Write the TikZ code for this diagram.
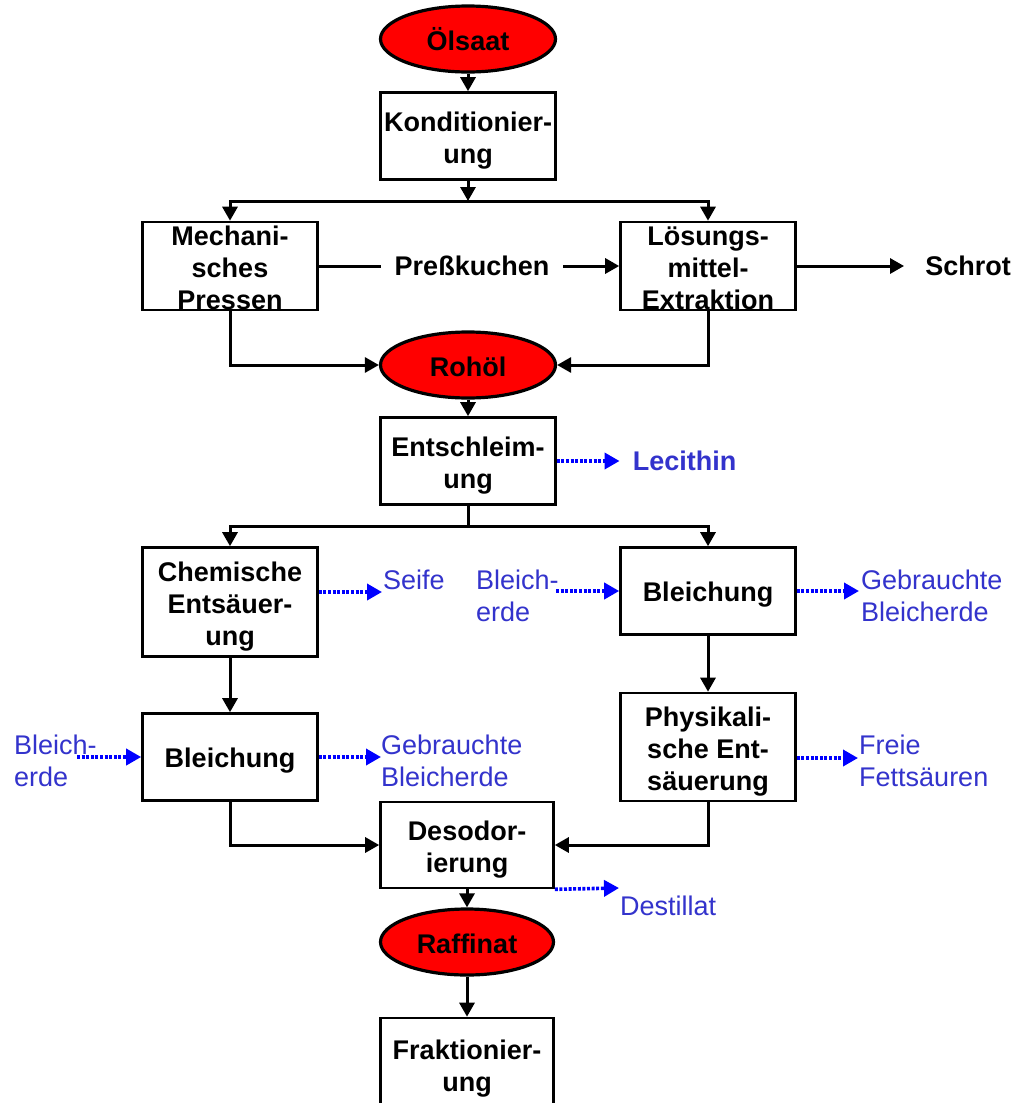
\documentclass[tikz,border=0pt]{standalone}
\usepackage{fontspec}
\setmainfont{Liberation Sans}
\usetikzlibrary{shapes.geometric,arrows.meta}
\definecolor{lblblue}{RGB}{51,51,204}
\definecolor{arrblue}{RGB}{0,0,255}
\newcommand\tstrut{\rule{0pt}{28pt}}
\newcommand\sstrut{\rule{0pt}{23pt}}
\begin{document}
\begin{tikzpicture}[x=1pt,y=-1pt,
 box/.style={draw,line width=2.6pt,minimum width=175pt,inner sep=0pt,font=\bfseries\fontsize{27}{32}\selectfont,align=center},
 oval/.style={ellipse,draw,line width=3.2pt,fill=red,minimum width=175pt,minimum height=66pt,inner sep=0pt,font=\bfseries\fontsize{27}{32}\selectfont,execute at begin node={\rule{0pt}{24pt}}},
 arr/.style={line width=3pt,-{Triangle[length=14pt,width=15pt]}},
 ln/.style={line width=3pt},
 dotarr/.style={arrblue,line width=3.6pt,dash pattern=on 3pt off 1.6pt,-{Triangle[length=15pt,width=16pt]}},
 blab/.style={lblblue,inner sep=0pt,font=\fontsize{27}{32.5}\selectfont,align=left},
 bl/.style={font=\bfseries\fontsize{27}{32}\selectfont,inner ysep=0pt},
 ]
\useasboundingbox (0,0) rectangle (1018,1103);
\fill[white] (0,0) rectangle (1018,1103);

% main nodes
\node[oval] (ol) at (468,39) {Ölsaat};
\node[box,minimum height=87pt] (kon) at (468,136) {\tstrut Konditionier-\\ung};
\coordinate (s1) at (468,201);
\node[box,minimum height=88pt] (mech) at (230,266) {\sstrut Mechani-\\sches\\Pressen};
\node[box,minimum height=88pt] (loes) at (708,266) {\sstrut Lösungs-\\mittel-\\Extraktion};
\node[bl,inner xsep=14pt] (pk) at (472,266) {Preßkuchen};
\node[bl,inner xsep=21pt] (schrot) at (968,266) {Schrot};
\node[oval] (roh) at (468,365) {Rohöl};
\node[box,minimum height=87pt] (ent) at (468,461) {\tstrut Entschleim-\\ung};
\node[bl,text=lblblue,inner xsep=13pt] (lec) at (684.5,461) {Lecithin};
\coordinate (s2) at (468,526);
\node[box,minimum height=109pt] (chem) at (230,602) {\tstrut Chemische\\Entsäuer-\\ung};
\node[box,minimum height=87pt] (bleR) at (708,591) {\rule{0pt}{27pt}Bleichung};
\node[box,minimum height=87pt] (bleL) at (230,757) {\rule{0pt}{27pt}Bleichung};
\node[box,minimum height=108pt] (phys) at (708,747) {\tstrut Physikali-\\sche Ent-\\säuerung};
\node[box,minimum height=86pt,minimum width=173pt] (des) at (467,845) {\tstrut Desodor-\\ierung};
\node[oval,minimum width=173pt] (raf) at (467,942) {Raffinat};
\node[box,minimum height=92pt,minimum width=173pt] (frak) at (467,1064) {\tstrut Fraktionier-\\ung};

% blue labels
\node[blab,anchor=base west] (seife) at (383,589) {Seife};
\node[blab,anchor=west] (beR) at (476,596) {Bleich-\\erde};
\node[blab,anchor=west] (gbR) at (861,596) {Gebrauchte\\Bleicherde};
\node[blab,anchor=west] (beL) at (14,761) {Bleich-\\erde};
\node[blab,anchor=west] (gbL) at (381,761) {Gebrauchte\\Bleicherde};
\node[blab,anchor=west] (ff) at (859,761) {Freie\\Fettsäuren};
\node[blab,anchor=base west] (dest) at (620,915) {Destillat};

\coordinate (seifeTip) at (382,592);
\coordinate (beRstart) at (556,591);
\coordinate (gbRtip) at (859,591);
\coordinate (beLstart) at (77,757);
\coordinate (gbLtip) at (381,757);
\coordinate (fftip) at (858,758);
\coordinate (desttip) at (619,888);

% black connectors
\draw[arr] (ol.south) -- (kon.north);
\draw[arr] (kon.south) -- (s1);
\draw[arr] (s1) -| (mech.north);
\draw[arr] (s1) -| (loes.north);
\draw[ln] (mech.east) -- (pk.west);
\draw[arr] (pk.east) -- (loes.west);
\draw[arr] (loes.east) -- (schrot.west);
\draw[arr] (mech.south) |- (roh.west);
\draw[arr] (loes.south) |- (roh.east);
\draw[arr] (roh.south) -- (ent.north);
\draw[ln] (ent.south) -- (s2);
\draw[arr] (s2) -| (chem.north);
\draw[arr] (s2) -| (bleR.north);
\draw[arr] (chem.south) -- (bleL.north);
\draw[arr] (bleR.south) -- (phys.north);
\draw[arr] (bleL.south) |- (des.west);
\draw[arr] (phys.south) |- (des.east);
\draw[arr] (des.south) -- (raf.north);
\draw[arr] (raf.south) -- (frak.north);

% blue dotted connectors
\draw[dotarr] (ent.east) -- (lec.west);
\draw[dotarr] (chem.east |- seifeTip) -- (seifeTip);
\draw[dotarr] (beRstart) -- (bleR.west);
\draw[dotarr] (bleR.east) -- (gbRtip);
\draw[dotarr] (beLstart) -- (bleL.west);
\draw[dotarr] (bleL.east) -- (gbLtip);
\draw[dotarr] (phys.east |- fftip) -- (fftip);
\draw[dotarr] (des.south east) -- (desttip);
\end{tikzpicture}
\end{document}
